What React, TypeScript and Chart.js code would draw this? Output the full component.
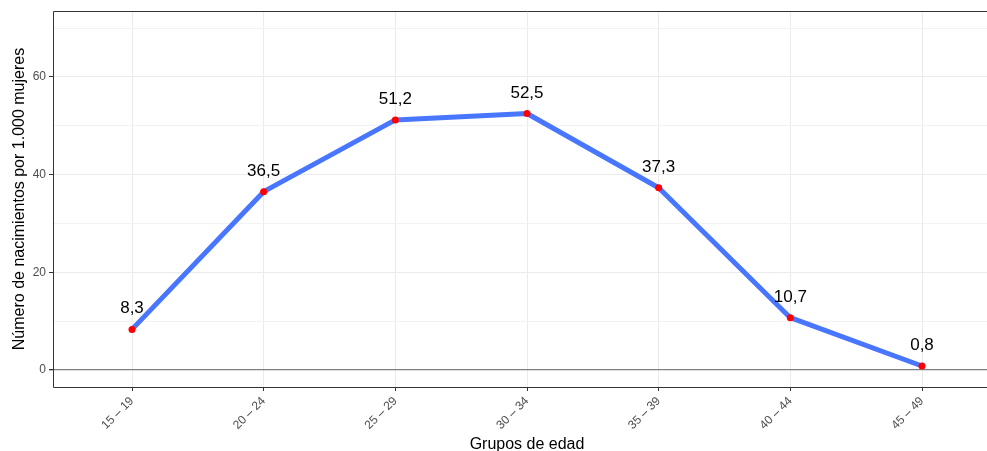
import React, { useEffect, useRef } from 'react';
import { Chart, registerables } from 'chart.js';

Chart.register(...registerables);

const categories: string[] = ['15 – 19', '20 – 24', '25 – 29', '30 – 34', '35 – 39', '40 – 44', '45 – 49'];
const values: number[] = [8.3, 36.5, 51.2, 52.5, 37.3, 10.7, 0.8];
const yTicks: number[] = [0, 10, 20, 30, 40, 50, 60, 70];
const yLabeled: number[] = [0, 20, 40, 60];
const xTitle = 'Grupos de edad';
const yTitle = 'Número de nacimientos por 1.000 mujeres';

const FONT = "'Liberation Sans', Arial, Helvetica, sans-serif";
const W = 1010;
const H = 451;

const fmt = (v: number) => v.toFixed(1).replace('.', ',');

const extrasPlugin = {
  id: 'extras',
  afterDatasetsDraw(chart: any) {
    const { ctx, chartArea } = chart;
    const meta = chart.getDatasetMeta(0);
    ctx.save();
    ctx.fillStyle = '#000';
    ctx.font = `17px ${FONT}`;
    ctx.textAlign = 'center';
    ctx.textBaseline = 'alphabetic';
    meta.data.forEach((el: any, i: number) => {
      ctx.fillText(fmt(values[i]), el.x, el.y - 16);
    });
    // panel border (top, left, bottom; right edge lies outside the visible page)
    const l = Math.round(chartArea.left) + 0.5;
    const t = Math.round(chartArea.top) + 0.5;
    const b = Math.round(chartArea.bottom) + 0.5;
    const r = Math.round(chartArea.right) + 0.5;
    ctx.strokeStyle = '#333333';
    ctx.lineWidth = 1;
    ctx.beginPath();
    ctx.moveTo(r, t);
    ctx.lineTo(l, t);
    ctx.lineTo(l, b);
    ctx.lineTo(r, b);
    ctx.stroke();
    // axis titles
    ctx.font = `16px ${FONT}`;
    ctx.textAlign = 'center';
    ctx.textBaseline = 'alphabetic';
    ctx.fillText(xTitle, (chartArea.left + chartArea.right) / 2, 449);
    ctx.translate(24, (chartArea.top + chartArea.bottom) / 2);
    ctx.rotate(-Math.PI / 2);
    ctx.fillText(yTitle, 0, 0);
    ctx.restore();
  },
};

export default function App() {
  const ref = useRef<HTMLCanvasElement | null>(null);
  useEffect(() => {
    if (!ref.current) return;
    const chart = new Chart(ref.current, {
      type: 'line',
      data: {
        datasets: [
          {
            data: values.map((v, i) => ({ x: i, y: v })),
            borderColor: '#4876FF',
            borderWidth: 5,
            borderJoinStyle: 'round',
            borderCapStyle: 'round',
            pointRadius: 3.5,
            pointBackgroundColor: '#FF0000',
            pointBorderWidth: 0,
            pointHoverRadius: 3.5,
            tension: 0,
          },
        ],
      },
      options: {
        responsive: false,
        animation: false,
        devicePixelRatio: 1,
        layout: { padding: { left: 0, top: 11, right: 9, bottom: 0 } },
        plugins: { legend: { display: false }, tooltip: { enabled: false } },
        scales: {
          x: {
            type: 'linear',
            min: -0.6,
            max: 6.6,
            afterBuildTicks: (s: any) => {
              s.ticks = categories.map((_, i) => ({ value: i }));
            },
            afterFit: (s: any) => {
              s.height = H - 387;
            },
            ticks: {
              callback: (v: any) => categories[v as number] ?? '',
              minRotation: 45,
              maxRotation: 45,
              color: '#4d4d4d',
              font: { family: FONT, size: 12 },
              padding: 3,
              autoSkip: false,
            },
            grid: {
              color: '#ebebeb',
              lineWidth: 1,
              tickLength: 4,
              tickColor: '#333333',
              drawTicks: true,
            },
            border: { display: false },
            title: { display: false },
          },
          y: {
            type: 'linear',
            min: -3.5,
            max: 73.5,
            afterBuildTicks: (s: any) => {
              s.ticks = yTicks.map((v) => ({ value: v }));
            },
            afterFit: (s: any) => {
              s.width = 53;
            },
            ticks: {
              callback: (v: any) => (yLabeled.includes(v as number) ? String(v) : ''),
              color: '#4d4d4d',
              font: { family: FONT, size: 12 },
              padding: 3,
              autoSkip: false,
            },
            grid: {
              color: (c: any) => (c.tick && c.tick.value === 0 ? '#7f7f7f' : c.tick && c.tick.value % 20 === 0 ? '#ebebeb' : '#f2f2f2'),
              lineWidth: (c: any) => (c.tick && c.tick.value === 0 ? 1.3 : 1),
              tickLength: 4,
              tickColor: (c: any) => (c.tick && c.tick.value % 20 === 0 ? '#333333' : 'rgba(0,0,0,0)'),
            },
            border: { display: false },
            title: { display: false },
          },
        },
      },
      plugins: [extrasPlugin],
    } as any);
    return () => chart.destroy();
  }, []);

  return (
    <div
      style={{
        position: 'fixed',
        left: 0,
        top: 0,
        width: 987,
        height: 451,
        overflow: 'hidden',
        background: '#fff',
      }}
    >
      <canvas ref={ref} width={W} height={H} style={{ width: W, height: H, display: 'block' }} />
    </div>
  );
}
